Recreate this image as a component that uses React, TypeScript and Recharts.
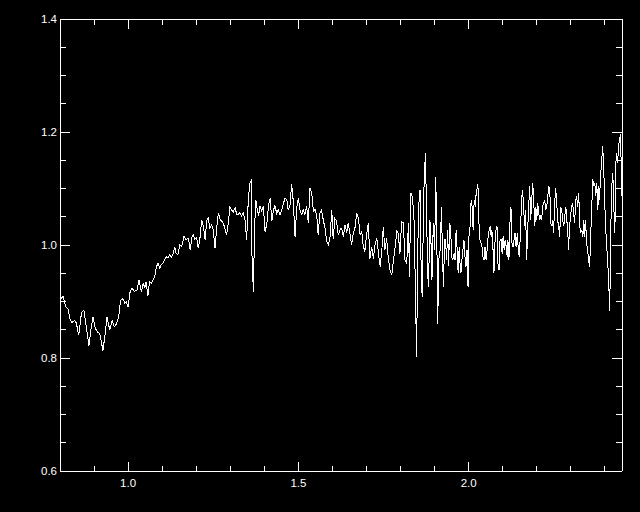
import React from "react";
import { LineChart, Line, XAxis, YAxis } from "recharts";

// wavelength (micron), normalized flux
const bandA: [number, number][] = [
  [0.804, 0.905], [0.809, 0.91], [0.815, 0.895], [0.818, 0.89], [0.824, 0.886], [0.829, 0.87],
  [0.835, 0.863], [0.843, 0.866], [0.848, 0.862], [0.855, 0.84], [0.863, 0.88], [0.87, 0.885],
  [0.877, 0.855], [0.885, 0.822], [0.892, 0.855], [0.897, 0.872], [0.904, 0.852], [0.912, 0.845],
  [0.917, 0.843], [0.921, 0.83], [0.926, 0.813], [0.931, 0.835], [0.938, 0.872], [0.946, 0.85],
  [0.953, 0.867], [0.959, 0.855], [0.965, 0.86], [0.972, 0.872], [0.978, 0.902], [0.985, 0.905],
  [0.99, 0.897], [0.995, 0.899], [1.0, 0.89], [1.005, 0.915], [1.011, 0.923], [1.019, 0.918],
  [1.026, 0.92], [1.032, 0.938], [1.039, 0.917], [1.044, 0.932], [1.049, 0.925], [1.053, 0.935],
  [1.058, 0.91], [1.063, 0.935], [1.068, 0.932], [1.073, 0.938], [1.078, 0.943], [1.083, 0.961],
  [1.088, 0.968], [1.093, 0.958], [1.097, 0.965], [1.102, 0.968], [1.107, 0.973], [1.112, 0.979],
  [1.117, 0.977], [1.122, 0.982], [1.127, 0.978], [1.132, 0.985], [1.137, 0.996], [1.141, 0.985],
  [1.146, 0.983],
];

const bandB: [number, number][] = [
  [1.152, 1.0], [1.157, 0.997], [1.164, 1.015], [1.17, 1.009], [1.177, 1.012], [1.182, 0.991],
  [1.187, 1.013], [1.191, 1.018], [1.196, 1.01], [1.201, 1.013], [1.206, 0.994], [1.211, 1.013],
  [1.216, 1.044], [1.221, 1.033], [1.226, 1.009], [1.231, 1.044], [1.235, 1.048], [1.24, 1.03],
  [1.245, 1.036], [1.25, 1.027], [1.255, 0.994], [1.26, 1.03], [1.265, 1.057], [1.27, 1.045],
  [1.275, 1.042], [1.279, 1.039], [1.284, 1.03], [1.289, 1.018], [1.294, 1.039], [1.299, 1.068],
  [1.304, 1.062], [1.309, 1.059], [1.314, 1.066], [1.319, 1.054], [1.323, 1.054], [1.328, 1.057],
  [1.333, 1.051], [1.338, 1.057], [1.343, 1.045], [1.348, 1.009], [1.353, 1.083], [1.358, 1.11],
  [1.361, 1.113], [1.364, 0.968], [1.368, 0.917], [1.371, 1.027], [1.375, 1.08], [1.379, 1.062],
  [1.383, 1.052], [1.387, 1.069], [1.392, 1.06], [1.397, 1.069], [1.402, 1.024], [1.407, 1.036],
  [1.412, 1.069], [1.417, 1.083], [1.422, 1.042], [1.426, 1.06], [1.431, 1.07], [1.436, 1.056],
  [1.441, 1.062], [1.446, 1.053], [1.451, 1.062], [1.456, 1.074], [1.461, 1.083], [1.466, 1.08],
  [1.47, 1.062], [1.475, 1.068],
];

const bandC: [number, number][] = [
  [1.48, 1.107], [1.485, 1.077], [1.49, 1.015], [1.495, 1.066], [1.5, 1.083], [1.505, 1.06],
  [1.51, 1.054], [1.514, 1.063], [1.519, 1.054], [1.524, 1.069], [1.529, 1.039], [1.534, 1.101],
  [1.539, 1.092], [1.544, 1.06], [1.549, 1.063], [1.554, 1.051], [1.558, 1.018], [1.563, 1.056],
  [1.568, 1.062], [1.573, 1.044], [1.578, 1.03], [1.583, 1.006], [1.588, 1.0], [1.593, 1.015],
  [1.598, 1.062], [1.602, 1.01], [1.607, 1.047], [1.612, 1.042], [1.617, 1.018], [1.622, 1.027],
  [1.627, 1.03], [1.632, 1.015], [1.637, 1.036], [1.642, 1.021], [1.646, 1.039], [1.651, 1.021],
  [1.656, 1.0], [1.661, 1.021], [1.666, 1.03], [1.671, 1.057], [1.676, 1.048], [1.681, 1.018],
  [1.686, 1.024], [1.69, 1.0], [1.695, 0.988], [1.7, 1.018], [1.705, 1.039], [1.71, 0.976],
  [1.715, 0.997], [1.72, 0.976], [1.725, 1.0], [1.73, 1.012], [1.735, 0.985], [1.74, 0.962],
  [1.745, 0.991], [1.749, 1.032], [1.754, 0.991], [1.759, 1.012], [1.764, 0.976], [1.769, 0.956],
  [1.774, 0.947], [1.779, 0.973], [1.784, 0.997], [1.789, 1.024], [1.793, 1.021], [1.798, 0.985],
  [1.803, 1.041],
];

const bandD: [number, number][] = [
  [1.808, 1.039], [1.813, 0.973], [1.818, 0.967], [1.823, 1.039], [1.826, 0.944], [1.83, 1.092],
  [1.834, 1.086], [1.837, 1.068], [1.84, 1.039], [1.843, 0.932], [1.847, 0.801], [1.85, 0.979],
  [1.853, 1.068], [1.857, 1.098], [1.861, 0.926], [1.864, 0.908], [1.867, 1.068], [1.87, 1.127],
  [1.873, 1.163], [1.877, 1.027], [1.881, 0.926], [1.883, 0.956], [1.886, 1.044], [1.889, 1.009],
  [1.892, 0.938], [1.896, 1.039], [1.9, 0.991], [1.903, 1.121], [1.906, 1.033], [1.909, 0.861],
  [1.912, 0.973], [1.916, 0.991], [1.92, 1.068], [1.923, 0.979], [1.926, 0.926], [1.929, 1.009],
  [1.932, 1.009], [1.935, 0.973], [1.938, 1.027], [1.941, 0.962], [1.944, 1.039], [1.947, 1.027],
  [1.95, 0.979], [1.953, 0.973], [1.957, 0.985], [1.96, 0.973], [1.963, 1.027], [1.966, 0.991],
  [1.969, 0.95], [1.972, 0.997], [1.975, 0.962], [1.977, 0.95], [1.98, 0.973], [1.983, 0.991],
  [1.986, 1.009], [1.989, 0.979], [1.992, 0.962], [1.995, 0.991], [1.998, 0.926], [2.001, 1.021],
  [2.004, 1.033], [2.007, 1.08], [2.01, 1.068], [2.013, 1.027], [2.016, 1.08], [2.019, 1.068],
  [2.021, 1.086], [2.024, 1.098], [2.027, 1.107], [2.03, 1.039], [2.033, 1.009], [2.036, 1.003],
  [2.039, 0.997], [2.042, 0.979], [2.045, 0.973], [2.048, 0.997], [2.051, 0.973], [2.054, 0.991],
  [2.057, 1.015], [2.06, 1.027], [2.063, 1.033], [2.066, 1.015], [2.068, 1.027], [2.071, 0.997],
  [2.074, 0.95], [2.077, 1.003], [2.08, 1.027], [2.083, 1.033], [2.086, 0.967], [2.089, 0.956],
  [2.092, 1.009], [2.095, 1.009], [2.098, 0.985], [2.101, 1.015], [2.104, 0.991], [2.107, 1.009],
  [2.11, 0.997], [2.113, 0.979], [2.115, 1.009], [2.118, 0.973], [2.121, 1.039], [2.124, 1.068],
  [2.127, 1.003], [2.13, 0.997], [2.133, 1.009],
];

const bandE: [number, number][] = [
  [2.136, 1.021], [2.139, 0.997], [2.143, 1.021], [2.146, 0.985], [2.149, 0.979], [2.153, 1.044],
  [2.156, 1.086], [2.158, 1.098], [2.161, 1.068], [2.164, 1.033], [2.167, 1.062], [2.17, 0.973],
  [2.173, 1.027], [2.176, 1.068], [2.179, 1.104], [2.182, 1.044], [2.185, 1.08], [2.188, 1.11],
  [2.191, 1.074], [2.194, 1.033], [2.197, 1.068], [2.2, 1.044], [2.202, 1.074], [2.205, 1.062],
  [2.208, 1.044], [2.211, 1.05], [2.214, 1.044], [2.217, 1.068], [2.22, 1.074], [2.223, 1.08],
  [2.226, 1.062], [2.229, 1.068], [2.232, 1.086], [2.235, 1.104], [2.238, 1.098], [2.241, 1.039],
  [2.244, 1.033], [2.246, 1.044], [2.249, 1.021], [2.252, 1.068], [2.255, 1.101], [2.258, 1.08],
  [2.261, 1.044], [2.264, 1.033], [2.267, 1.015], [2.27, 1.068], [2.273, 1.062], [2.276, 1.044],
  [2.279, 1.033], [2.282, 1.05], [2.285, 1.068], [2.288, 1.044], [2.291, 1.021], [2.293, 0.991],
  [2.296, 1.033], [2.299, 1.05], [2.302, 1.068], [2.305, 1.074], [2.308, 1.056], [2.311, 1.039],
  [2.314, 1.08], [2.317, 1.086], [2.32, 1.068], [2.323, 1.092], [2.326, 1.033], [2.329, 1.021],
  [2.332, 1.027], [2.335, 1.015], [2.338, 1.044], [2.34, 1.015], [2.343, 1.044], [2.346, 1.003],
  [2.349, 0.991], [2.352, 0.973], [2.355, 0.961], [2.358, 1.015], [2.361, 1.062], [2.364, 1.116],
  [2.367, 1.104], [2.37, 1.11], [2.373, 1.086], [2.376, 1.11], [2.379, 1.062], [2.382, 1.104],
  [2.384, 1.08], [2.387, 1.122], [2.39, 1.145], [2.393, 1.175], [2.396, 1.145], [2.399, 1.08],
  [2.402, 1.033], [2.405, 0.997], [2.408, 0.973], [2.411, 0.932], [2.414, 0.884], [2.417, 1.027],
  [2.42, 1.104], [2.423, 1.127], [2.426, 1.068], [2.429, 1.021], [2.432, 1.145], [2.434, 1.163],
  [2.437, 1.145], [2.44, 1.175], [2.443, 1.187], [2.446, 1.196], [2.449, 1.086],
];

const X_TICKS = [0.9, 1.0, 1.1, 1.2, 1.3, 1.4, 1.5, 1.6, 1.7, 1.8, 1.9, 2.0, 2.1, 2.2, 2.3, 2.4];
const X_LABELS = [1.0, 1.5, 2.0];
const Y_TICKS = [0.6, 0.65, 0.7, 0.75, 0.8, 0.85, 0.9, 0.95, 1.0, 1.05, 1.1, 1.15, 1.2, 1.25, 1.3, 1.35, 1.4];
const Y_LABELS = [0.6, 0.8, 1.0, 1.2, 1.4];

const data = [...bandA, ...bandB, ...bandC, ...bandD, ...bandE].map(([w, f]) => ({ w, f }));

const isIn = (arr: number[], v: number) => arr.some((a) => Math.abs(a - v) < 1e-6);
const FONT = "'Liberation Sans', Arial, sans-serif";
const WHITE = "#ffffff";

const BottomTick = (p: any) => {
  const { x, y, payload } = p;
  const major = isIn(X_LABELS, payload.value);
  return (
    <g>
      <line x1={x} y1={y} x2={x} y2={y - (major ? 9 : 5)} stroke={WHITE} strokeWidth={1} shapeRendering="crispEdges" />
      {major && (
        <text x={x} y={y + 16} textAnchor="middle" fill={WHITE} fontSize={11.5} fontFamily={FONT}>
          {payload.value.toFixed(1)}
        </text>
      )}
    </g>
  );
};

const TopTick = (p: any) => {
  const { x, y, payload } = p;
  const major = isIn(X_LABELS, payload.value);
  return <line x1={x} y1={y} x2={x} y2={y + (major ? 10 : 6)} stroke={WHITE} strokeWidth={1} shapeRendering="crispEdges" />;
};

const LeftTick = (p: any) => {
  const { x, y, payload } = p;
  const major = isIn(Y_LABELS, payload.value);
  return (
    <g>
      <line x1={x} y1={y} x2={x + (major ? 10 : 6)} y2={y} stroke={WHITE} strokeWidth={1} shapeRendering="crispEdges" />
      {major && (
        <text x={x - 3} y={y + 4} textAnchor="end" fill={WHITE} fontSize={11.5} fontFamily={FONT}>
          {payload.value.toFixed(1)}
        </text>
      )}
    </g>
  );
};

const RightTick = (p: any) => {
  const { x, y, payload } = p;
  const major = isIn(Y_LABELS, payload.value);
  return <line x1={x} y1={y} x2={x - (major ? 10 : 6)} y2={y} stroke={WHITE} strokeWidth={1} shapeRendering="crispEdges" />;
};

const axisLineStyle = { stroke: WHITE, strokeWidth: 1, shapeRendering: "crispEdges" };

export default function App() {
  return (
    <div style={{ position: "fixed", left: 0, top: 0, width: 640, height: 512, background: "#000" }}>
      <LineChart width={640} height={512} data={data} margin={{ top: 18, right: 17, bottom: 40, left: 59 }}>
        <XAxis
          xAxisId="b"
          dataKey="w"
          type="number"
          domain={[0.8, 2.45]}
          allowDataOverflow
          ticks={X_TICKS}
          interval={0}
          height={1}
          tickSize={0}
          tickMargin={0}
          tickLine={false}
          axisLine={axisLineStyle}
          tick={BottomTick}
        />
        <XAxis
          xAxisId="t"
          orientation="top"
          dataKey="w"
          type="number"
          domain={[0.8, 2.45]}
          allowDataOverflow
          ticks={X_TICKS}
          interval={0}
          height={1}
          tickSize={0}
          tickMargin={0}
          tickLine={false}
          axisLine={axisLineStyle}
          tick={TopTick}
        />
        <YAxis
          yAxisId="l"
          type="number"
          domain={[0.6, 1.4]}
          allowDataOverflow
          ticks={Y_TICKS}
          interval={0}
          width={1}
          tickSize={0}
          tickMargin={0}
          tickLine={false}
          axisLine={axisLineStyle}
          tick={LeftTick}
        />
        <YAxis
          yAxisId="r"
          orientation="right"
          type="number"
          domain={[0.6, 1.4]}
          allowDataOverflow
          ticks={Y_TICKS}
          interval={0}
          width={1}
          tickSize={0}
          tickMargin={0}
          tickLine={false}
          axisLine={axisLineStyle}
          tick={RightTick}
        />
        <Line
          xAxisId="b"
          yAxisId="l"
          type="linear"
          dataKey="f"
          stroke={WHITE}
          strokeWidth={1}
          dot={false}
          activeDot={false}
          isAnimationActive={false}
          shapeRendering="crispEdges"
        />
        <Line
          xAxisId="t"
          yAxisId="r"
          type="linear"
          dataKey="f"
          stroke="none"
          strokeWidth={0}
          dot={false}
          activeDot={false}
          isAnimationActive={false}
        />
      </LineChart>
    </div>
  );
}
